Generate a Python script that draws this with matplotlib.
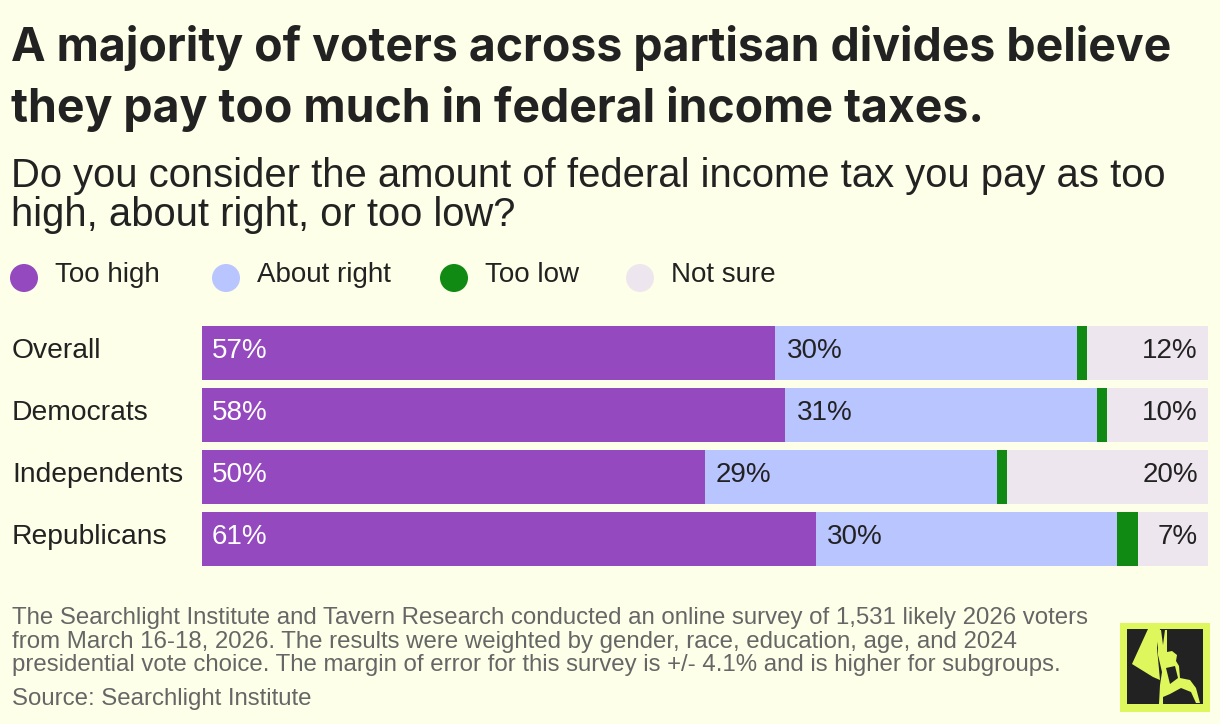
import matplotlib
matplotlib.use("Agg")
import matplotlib.pyplot as plt
from matplotlib.patches import Circle, Rectangle, Polygon

categories = ["Overall", "Democrats", "Independents", "Republicans"]
too_high = [57, 58, 50, 61]
about_right = [30, 31, 29, 30]
too_low = [1, 1, 1, 2]
not_sure = [12, 10, 20, 7]
series_names = ["Too high", "About right", "Too low", "Not sure"]

title_lines = ["A majority of voters across partisan divides believe",
               "they pay too much in federal income taxes."]
subtitle_lines = ["Do you consider the amount of federal income tax you pay as too",
                  "high, about right, or too low?"]
footnote_lines = ["The Searchlight Institute and Tavern Research conducted an online survey of 1,531 likely 2026 voters",
                  "from March 16-18, 2026. The results were weighted by gender, race, education, age, and 2024",
                  "presidential vote choice. The margin of error for this survey is +/- 4.1% and is higher for subgroups."]
source = "Source: Searchlight Institute"

BG = "#FEFFE8"
COLORS = ["#9449BF", "#B9C5FF", "#118A14", "#EEE6EE"]
DARK = "#222222"
GRAY = "#666666"
LIME = "#DDF75C"
W, H = 1220, 724

fig = plt.figure(figsize=(W / 100, H / 100), dpi=100, facecolor=BG)

# overlay axes in pixel coordinates for text and decorations
ov = fig.add_axes([0, 0, 1, 1], zorder=5)
ov.set_xlim(0, W)
ov.set_ylim(H, 0)
ov.axis("off")
ov.patch.set_alpha(0)

body = ["Liberation Sans", "DejaVu Sans"]
titlef = ["Inter", "DejaVu Sans"]

for line, yb in zip(title_lines, [61, 122]):
    ov.text(11, yb, line, ha="left", va="baseline", fontsize=33.4, fontweight="bold",
            family=titlef, color=DARK)
for line, yb in zip(subtitle_lines, [187, 226]):
    ov.text(11, yb, line, ha="left", va="baseline", fontsize=28.8,
            family=body, color=DARK)

# legend
leg_circ_x = [24, 226, 454, 640]
for name, col, cx in zip(series_names, COLORS, leg_circ_x):
    ov.add_patch(Circle((cx, 278), radius=14, facecolor=col, edgecolor="none"))
    ov.text(cx + 31, 282, name, ha="left", va="baseline", fontsize=20,
            family=body, color=DARK)

# bars
bh = 54 / 62
pad = bh / 2
ax_top, ax_bot = 326, 566
ax = fig.add_axes([202 / W, 1 - ax_bot / H, (1208 - 202) / W, (ax_bot - ax_top) / H])
ax.set_facecolor(BG)
ax.set_xlim(0, 100)
ax.set_ylim(len(categories) - 1 + pad, -pad)
ax.axis("off")

ypos = list(range(len(categories)))
left = [0] * len(categories)
for vals, col in zip([too_high, about_right, too_low, not_sure], COLORS):
    ax.barh(ypos, vals, left=left, height=bh, color=col, edgecolor="none")
    left = [l + v for l, v in zip(left, vals)]

for i, cat in enumerate(categories):
    yb = ax_top + 27 + 62 * i + 5
    ax.text(1.0, i + 5 / 62, f"{too_high[i]}%", ha="left", va="baseline", fontsize=20,
            family=body, color="white")
    ax.text(too_high[i] + 1.1, i + 5 / 62, f"{about_right[i]}%", ha="left", va="baseline",
            fontsize=20, family=body, color=DARK)
    ax.text(99.0, i + 5 / 62, f"{not_sure[i]}%", ha="right", va="baseline", fontsize=20,
            family=body, color=DARK)
    ov.text(12, yb, cat, ha="left", va="baseline", fontsize=20.3, family=body, color=DARK)

for line, yb in zip(footnote_lines, [624, 648, 671]):
    ov.text(12, yb, line, ha="left", va="baseline", fontsize=17.25, family=body, color=GRAY)
ov.text(12, 705, source, ha="left", va="baseline", fontsize=17.25, family=body, color=GRAY)

# logo
ov.add_patch(Rectangle((1120, 623), 90, 89, facecolor=LIME, edgecolor="none"))
ov.add_patch(Rectangle((1127, 629), 76, 75, facecolor="#222222", edgecolor="none"))
beam = [(1148, 629), (1160, 629), (1157, 648), (1160, 680), (1153, 677), (1132, 664)]
ov.add_patch(Polygon(beam, closed=True, facecolor=LIME, edgecolor="none"))
person = [(1158, 630), (1161, 630), (1163, 645), (1165, 630), (1167, 630), (1167, 652),
          (1172, 651), (1177, 655), (1176, 661), (1179, 666), (1180, 678), (1190, 680),
          (1196, 688), (1200, 703), (1196, 703), (1191, 692), (1181, 688), (1170, 694),
          (1163, 697), (1163, 704), (1159, 704), (1160, 685), (1162, 672), (1158, 655)]
ov.add_patch(Polygon(person, closed=True, facecolor=LIME, edgecolor="none"))
shade = [(1166, 668), (1175, 666), (1178, 678), (1170, 684)]
ov.add_patch(Polygon(shade, closed=True, facecolor="#222222", edgecolor="none"))

fig.savefig("out.png", dpi=100, facecolor=BG)
